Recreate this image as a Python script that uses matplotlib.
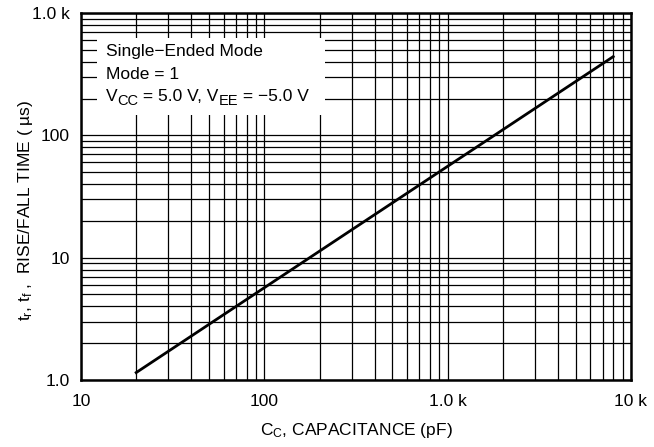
import matplotlib
matplotlib.use("Agg")
import matplotlib.pyplot as plt
from matplotlib.patches import Rectangle
from matplotlib.ticker import FixedLocator, LogLocator, NullFormatter
import numpy as np

plt.rcParams['font.family'] = ['Liberation Sans', 'DejaVu Sans']
plt.rcParams['mathtext.fontset'] = 'custom'
plt.rcParams['mathtext.rm'] = 'Liberation Sans'
plt.rcParams['mathtext.default'] = 'regular'

# data
cap_pf = [20, 8000]
rise_fall_us = [1.15, 440]

x_ticks = [10, 100, 1000, 10000]
x_labels = ["10", "100", "1.0 k", "10 k"]
y_ticks = [1, 10, 100, 1000]
y_labels = ["1.0", "10", "100", "1.0 k"]

note1 = "Single\u2212Ended Mode"
note2 = "Mode = 1"
# third note as (text, is_subscript) pieces
note3 = [("V", False), ("CC", True), (" = 5.0 V, V", False), ("EE", True),
         (" = \u22125.0 V", False)]

fig = plt.figure(figsize=(6.54, 4.47), dpi=100)
ax = fig.add_axes([81 / 654, 67 / 447, 550 / 654, 367 / 447])

ax.set_xscale('log')
ax.set_yscale('log')
ax.set_xlim(10, 10000)
ax.set_ylim(1, 1000)

ax.xaxis.set_major_locator(FixedLocator(x_ticks))
ax.yaxis.set_major_locator(FixedLocator(y_ticks))
ax.set_xticklabels(x_labels)
ax.set_yticklabels(y_labels)
ax.xaxis.set_minor_locator(LogLocator(base=10, subs=np.arange(2, 10)))
ax.yaxis.set_minor_locator(LogLocator(base=10, subs=np.arange(2, 10)))
ax.xaxis.set_minor_formatter(NullFormatter())
ax.yaxis.set_minor_formatter(NullFormatter())
ax.tick_params(which='both', length=0, labelsize=12.5)
ax.tick_params(axis='x', pad=10)
ax.tick_params(axis='y', pad=8)

ax.set_axisbelow(True)
ax.grid(True, which='both', color='black', linewidth=0.9)
for sp in ax.spines.values():
    sp.set_linewidth(1.8)

# white box behind the notes
ax.add_patch(Rectangle((0.029, 0.722), 0.415, 0.21, transform=ax.transAxes,
                       facecolor='white', edgecolor='none', zorder=1))
fs = 12.5
ax.text(0.045, 0.894, note1, transform=ax.transAxes, fontsize=fs,
        va='center', ha='left', zorder=2)
ax.text(0.045, 0.833, note2, transform=ax.transAxes, fontsize=fs,
        va='center', ha='left', zorder=2)
first = ax.text(0.045, 0.773, note3[0][0], transform=ax.transAxes, fontsize=fs,
                va='center', ha='left', zorder=2)
prev = first
for piece, sub in note3[1:]:
    prev = ax.annotate(piece, xy=(1, 0.5), xycoords=(prev, first),
                       xytext=(0, -3.5 if sub else 0), textcoords='offset points',
                       fontsize=10.5 if sub else fs, va='center', ha='left',
                       zorder=2, annotation_clip=False)

ax.plot(cap_pf, rise_fall_us, color='black', linewidth=2, zorder=3)

ax.set_xlabel("C$_C$, CAPACITANCE (pF)", fontsize=12.5, labelpad=9)
ax.set_ylabel("t$_r$, t$_f$ ,  RISE/FALL TIME ( \u00b5s)", fontsize=12.5)
ax.yaxis.set_label_coords(-0.084, 0.463)

fig.savefig("out.png", dpi=100)
